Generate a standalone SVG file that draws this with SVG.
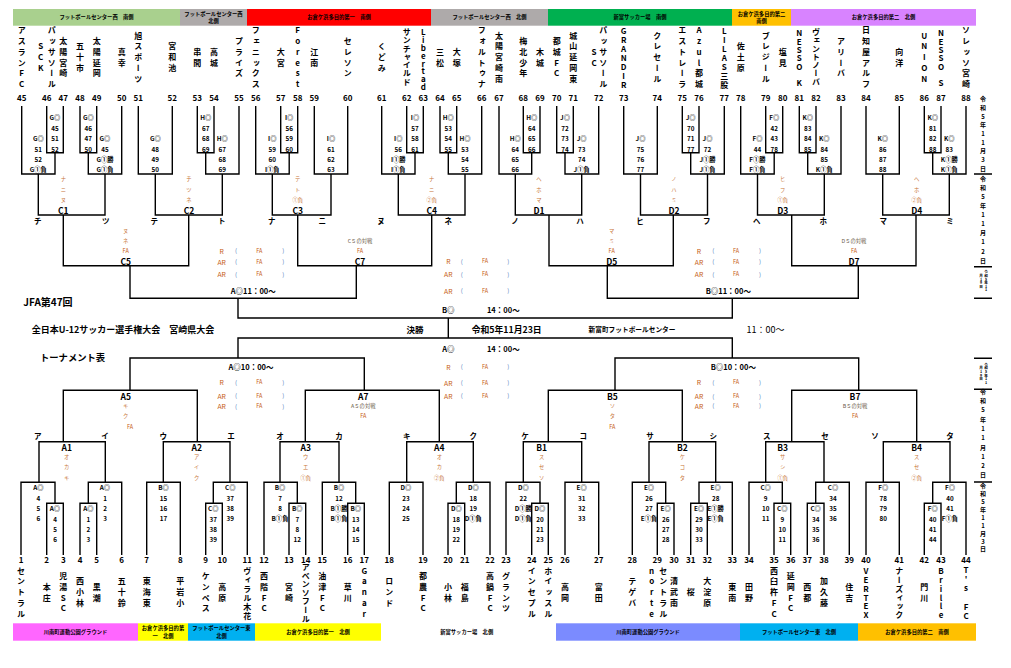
<svg xmlns="http://www.w3.org/2000/svg" width="1011" height="668" viewBox="0 0 1011 668">
<style>
text{font-family:"Noto Sans CJK JP","Liberation Sans",sans-serif;font-weight:bold;dominant-baseline:central;text-anchor:middle;fill:#000}
.n{font-size:8px}
.v{writing-mode:vertical-rl;text-orientation:upright;font-size:8px;letter-spacing:2.7px}
.l{font-size:6.3px}
.k{font-size:5.3px;fill:#c8763a;font-weight:normal}
.g{font-size:5.3px;fill:#6a5a4a;font-weight:normal}
.rt{font-size:8.5px}
.lt{font-size:7.5px}
.tm{font-size:7.5px}
.ref{font-size:6.8px;fill:#c55a11;font-weight:normal}
.p{font-size:6px;fill:#4f81bd;font-weight:normal}
.fa{font-size:5.5px;fill:#c55a11;font-weight:normal}
.hb{font-size:5.3px}
.st{text-anchor:start}
.vd{writing-mode:vertical-rl;text-orientation:upright;font-size:6px;letter-spacing:2.7px}
.vs{writing-mode:vertical-rl;text-orientation:upright;font-size:3.6px}
.conn path{fill:none;stroke:#000;stroke-width:1.4}
</style>
<rect width="1011" height="668" fill="#fff"/>

<g id="header-bars">
<rect x="13" y="9" width="167" height="16.7" fill="#a9d08e"/><text class="hb" x="96.5" y="17.3">フットボールセンター西　南側</text>
<rect x="180" y="9" width="67" height="16.7" fill="#aeaaaa"/><text class="hb" x="213.5" y="13.5">フットボールセンター西</text><text class="hb" x="213.5" y="21.3">北側</text>
<rect x="247" y="9" width="184" height="16.7" fill="#ff0000"/><text class="hb" x="339" y="17.3">お倉ケ浜多目的第一　南側</text>
<rect x="431" y="9" width="117" height="16.7" fill="#aeaaaa"/><text class="hb" x="489.5" y="17.3">フットボールセンター西　北側</text>
<rect x="548" y="9" width="184" height="16.7" fill="#00b050"/><text class="hb" x="640" y="17.3">新富サッカー場　南側</text>
<rect x="732" y="9" width="59" height="16.7" fill="#ffc000"/><text class="hb" x="761.5" y="13.5">お倉ケ浜多目的第二</text><text class="hb" x="761.5" y="21.3">南側</text>
<rect x="791" y="9" width="185" height="16.7" fill="#d883ff"/><text class="hb" x="883.5" y="17.3">お倉ケ浜多目的第二　北側</text>
</g>

<g id="footer-bars">
<rect x="13" y="623.3" width="125" height="17.4" fill="#ff66ff"/><text class="hb" x="75.5" y="632">川南町運動公園グラウンド</text>
<rect x="138" y="623.3" width="50" height="17.4" fill="#ffff00"/><text class="hb" x="163" y="628">お倉ケ浜多目的第</text><text class="hb" x="163" y="636">一　北側</text>
<rect x="188" y="623.3" width="67" height="17.4" fill="#00b0f0"/><text class="hb" x="221.5" y="628">フットボールセンター東</text><text class="hb" x="221.5" y="636">北側</text>
<rect x="255" y="623.3" width="126" height="17.4" fill="#ffff00"/><text class="hb" x="318" y="632">お倉ケ浜多目的第一　北側</text>
<text class="hb" x="466.7" y="632">新富サッカー場　北側</text>
<rect x="556" y="623.3" width="184" height="17.4" fill="#7b8bff"/><text class="hb" x="648" y="632">川南町運動公園グラウンド</text>
<rect x="740" y="623.3" width="118" height="17.4" fill="#00b0f0"/><text class="hb" x="799" y="632">フットボールセンター東　北側</text>
<rect x="858" y="623.3" width="118" height="17.4" fill="#ffc000"/><text class="hb" x="917" y="632">お倉ケ浜多目的第二　南側</text>
</g>

<g id="titles">
<text class="st" x="23.3" y="301" style="font-size:10px">JFA第47回</text>
<text class="st" x="31.7" y="329.3" style="font-size:9px">全日本U-12サッカー選手権大会　宮崎県大会</text>
<text class="st" x="40" y="356.7" style="font-size:9.3px">トーナメント表</text>
<text x="415" y="329" style="font-size:8.5px">決勝</text>
<text x="506.7" y="329" style="font-size:8.8px">令和5年11月23日</text>
<text x="632" y="329" style="font-size:6.7px">新富町フットボールセンター</text>
<text x="765.5" y="329" style="font-size:9px;font-weight:normal">11：00～</text>
</g>

<g class="conn" id="connectors">
<path d="M21.7 106V174H55V152.7M46.7 106V152.7H63.3V106M121.7 106V174H88.3V152.7M80 106V152.7H96.7V106M138.3 106V174H172.3V106M239 106V174H205.7V152.7M197.3 106V152.7H214V106M255.7 106V174H289.2V152.7M280.7 106V152.7H297.7V106M314.3 106V174H347.7V106M381.7 106V174H415V152.7M406.7 106V152.7H423.3V106M481.7 106V174H448.3V152.7M440 106V152.7H456.7V106"/>
<path d="M499 106V174H531.7V152.7M523.3 106V152.7H540V106M598.7 106V174H565V152.7M556.7 106V152.7H573.3V106M623.7 106V174H657.3V106M724.3 106V174H690.7V152.7M682.3 106V152.7H699V106M740.7 106V174H774.2V152.7M765.7 106V152.7H782.7V106M841 106V174H807.7V152.7M799.3 106V152.7H816V106M866 106V174H899.3V106M966 106V174H932.7V152.7M924.3 106V152.7H941V106"/>
<path d="M38.3 174V215H105V174M155.3 174V215H222.3V174M272.3 174V215H331V174M398.3 174V215H465V174M515.3 174V215H581.7V174M640.5 174V215H707.5V174M757.5 174V215H824.3V174M882.7 174V215H949.3V174"/>
<path d="M63.3 215V265.7H188.7V215M297.7 215V265.7H431.7V215M549 215V265.7H673.3V215M791.7 215V265.7H916V215M130 265.7V298.3H356.3V265.7M607.3 265.7V298.3H858.3V265.7"/>
<path d="M238 298.3V318H732.3V298.3M448.3 318V338M238 358V338H732.3V358M130 390.3V358H364.3V390.3M615 390.3V358H858.7V390.3"/>
<path d="M63.3 441.7V390.3H197.3V441.7M305.3 441.7V390.3H439.3V441.7M548.3 441.7V390.3H682.3V441.7M791.7 441.7V390.3H916.7V441.7"/>
<path d="M39 482.3V441.7H105.3V482.3M163.3 482.3V441.7H230V482.3M280 482.3V441.7H339V482.3M406.7 482.3V441.7H473.3V482.3M523.3 482.3V441.7H581.7V482.3M649 482.3V441.7H715.7V482.3M765.7 482.3V441.7H824V482.3M883.3 482.3V441.7H950V482.3"/>
<path d="M21 555V482.3H55V503.3M46.7 555V503.3H63.3V555M121.7 555V482.3H88.3V503.3M80 555V503.3H96.7V555M146.7 555V482.3H180.3V555M247.3 555V482.3H213.3V503.3M205.7 555V503.3H222.3V555M264 555V482.3H297.3V503.3M289 555V503.3H305.7V555M322.3 555V482.3H355.7V503.3M347.7 555V503.3H364.3V555M389.3 555V482.3H423V555M490 555V482.3H456.3V503.3M448 555V503.3H464.7V555"/>
<path d="M506 555V482.3H540V503.3M531.7 555V503.3H548.3V555M565 555V482.3H598.7V555M632.3 555V482.3H665.7V503.3M657.3 555V503.3H674V555M732.3 555V482.3H699V503.3M690.7 555V503.3H707.3V555M749 555V482.3H782.3V503.3M774 555V503.3H790.7V555M849.3 555V482.3H815.7V503.3M807.3 555V503.3H824V555M866 555V482.3H899.3V555M966 555V482.3H932.7V503.3M924.3 555V503.3H941V555"/>
<path d="M974 174H992M974 266.7H992M974 298.3H992M974 358.3H992M974 389.3H992M974 482H992"/>
</g>

<g id="teams-top">
<g id="t45"><text class="n" x="21.7" y="97.7">45</text><text class="v" x="21.7" y="58.5">アスランFC</text></g>
<g id="t46"><text class="n" x="46.7" y="97.7">46</text><text class="v" x="40.7" y="58.5">SCK</text><text class="v" x="51.7" y="58.5">パッサソール</text></g>
<g id="t47"><text class="n" x="63.3" y="97.7">47</text><text class="v" x="63.3" y="58.5">太陽宮崎</text></g>
<g id="t48"><text class="n" x="80" y="97.7">48</text><text class="v" x="80" y="58.5">五十市</text></g>
<g id="t49"><text class="n" x="96.7" y="97.7">49</text><text class="v" x="96.7" y="58.5">太陽延岡</text></g>
<g id="t50"><text class="n" x="121.7" y="97.7">50</text><text class="v" x="121.7" y="58.5">真幸</text></g>
<g id="t51"><text class="n" x="138.3" y="97.7">51</text><text class="v" x="138.3" y="58.5">旭スポーツ</text></g>
<g id="t52"><text class="n" x="172.3" y="97.7">52</text><text class="v" x="172.3" y="58.5">宮和池</text></g>
<g id="t53"><text class="n" x="197.3" y="97.7">53</text><text class="v" x="197.3" y="58.5">串間</text></g>
<g id="t54"><text class="n" x="214" y="97.7">54</text><text class="v" x="214" y="58.5">高城</text></g>
<g id="t55"><text class="n" x="239" y="97.7">55</text><text class="v" x="239" y="58.5">プライズ</text></g>
<g id="t56"><text class="n" x="255.7" y="97.7">56</text><text class="v" x="255.7" y="58.5">フェニックス</text></g>
<g id="t57"><text class="n" x="280.7" y="97.7">57</text><text class="v" x="280.7" y="58.5">大宮</text></g>
<g id="t58"><text class="n" x="297.7" y="97.7">58</text><text class="v" x="297.7" y="58.5">Forest</text></g>
<g id="t59"><text class="n" x="314.3" y="97.7">59</text><text class="v" x="314.3" y="58.5">江南</text></g>
<g id="t60"><text class="n" x="347.7" y="97.7">60</text><text class="v" x="347.7" y="58.5">セレソン</text></g>
<g id="t61"><text class="n" x="381.7" y="97.7">61</text><text class="v" x="381.7" y="58.5">くどみ</text></g>
<g id="t62"><text class="n" x="406.7" y="97.7">62</text><text class="v" x="406.7" y="57" style="letter-spacing:0.3px">サンチャイルド</text></g>
<g id="t63"><text class="n" x="423.3" y="97.7">63</text><text class="v" x="423.3" y="59.5" style="letter-spacing:-0.1px">Libertad</text></g>
<g id="t64"><text class="n" x="440" y="97.7">64</text><text class="v" x="440" y="58.5">三松</text></g>
<g id="t65"><text class="n" x="456.7" y="97.7">65</text><text class="v" x="456.7" y="58.5">大塚</text></g>
<g id="t66"><text class="n" x="481.7" y="97.7">66</text><text class="v" x="481.7" y="58.5">フォルトゥナ</text></g>
<g id="t67"><text class="n" x="499" y="97.7">67</text><text class="v" x="499" y="58.5">太陽宮崎南</text></g>
<g id="t68"><text class="n" x="523.3" y="97.7">68</text><text class="v" x="523.3" y="58.5">梅北少年</text></g>
<g id="t69"><text class="n" x="540" y="97.7">69</text><text class="v" x="540" y="58.5">木城</text></g>
<g id="t70"><text class="n" x="556.7" y="97.7">70</text><text class="v" x="556.7" y="58.5">都城FC</text></g>
<g id="t71"><text class="n" x="573.3" y="97.7">71</text><text class="v" x="573.3" y="58.5">城山延岡東</text></g>
<g id="t72"><text class="n" x="598.7" y="97.7">72</text><text class="v" x="594" y="58.5">SC</text><text class="v" x="603.3" y="58.5">パッサソール</text></g>
<g id="t73"><text class="n" x="623.7" y="97.7">73</text><text class="v" x="623.7" y="58.5" style="letter-spacing:0.9px">GRANDIR</text></g>
<g id="t74"><text class="n" x="657.3" y="97.7">74</text><text class="v" x="657.3" y="58.5">クレセール</text></g>
<g id="t75"><text class="n" x="682.3" y="97.7">75</text><text class="v" x="682.3" y="58.5">エストレーラ</text></g>
<g id="t76"><text class="n" x="699" y="97.7">76</text><text class="v" x="699" y="58.5">Azul都城</text></g>
<g id="t77"><text class="n" x="724.3" y="97.7">77</text><text class="v" x="724.3" y="58.5" style="letter-spacing:0.9px">LILAS三股</text></g>
<g id="t78"><text class="n" x="740.7" y="97.7">78</text><text class="v" x="740.7" y="58.5">佐土原</text></g>
<g id="t79"><text class="n" x="765.7" y="97.7">79</text><text class="v" x="765.7" y="58.5">ブレジール</text></g>
<g id="t80"><text class="n" x="782.7" y="97.7">80</text><text class="v" x="782.7" y="58.5">塩見</text></g>
<g id="t81"><text class="n" x="799.3" y="97.7">81</text><text class="v" x="799.3" y="58.5" style="letter-spacing:0.3px">NESSO　K</text></g>
<g id="t82"><text class="n" x="816" y="97.7">82</text><text class="v" x="816" y="57" style="letter-spacing:0.3px">ヴェントノーバ</text></g>
<g id="t83"><text class="n" x="841" y="97.7">83</text><text class="v" x="841" y="58.5">アリーバ</text></g>
<g id="t84"><text class="n" x="866" y="97.7">84</text><text class="v" x="866" y="58.5">日知屋アルフ</text></g>
<g id="t85"><text class="n" x="899.3" y="97.7">85</text><text class="v" x="899.3" y="58.5">向洋</text></g>
<g id="t86"><text class="n" x="924.3" y="97.7">86</text><text class="v" x="924.3" y="58.5">UNION</text></g>
<g id="t87"><text class="n" x="941" y="97.7">87</text><text class="v" x="941" y="58.5" style="letter-spacing:0.3px">NESSO　S</text></g>
<g id="t88"><text class="n" x="966" y="97.7">88</text><text class="v" x="966" y="58.5">ソレッソ宮崎</text></g>
</g>

<g id="teams-bottom">
<g id="t1"><text class="n" x="21" y="559.3">1</text><text class="v" x="21" y="593.5">セントラル</text></g>
<g id="t2"><text class="n" x="46.7" y="559.3">2</text><text class="v" x="46.7" y="593.5">本庄</text></g>
<g id="t3"><text class="n" x="63.3" y="559.3">3</text><text class="v" x="63.3" y="593.5">児湯SC</text></g>
<g id="t4"><text class="n" x="80" y="559.3">4</text><text class="v" x="80" y="593.5">西小林</text></g>
<g id="t5"><text class="n" x="96.7" y="559.3">5</text><text class="v" x="96.7" y="593.5">黒潮</text></g>
<g id="t6"><text class="n" x="121.7" y="559.3">6</text><text class="v" x="121.7" y="593.5">五十鈴</text></g>
<g id="t7"><text class="n" x="146.7" y="559.3">7</text><text class="v" x="146.7" y="593.5">東海東</text></g>
<g id="t8"><text class="n" x="180.3" y="559.3">8</text><text class="v" x="180.3" y="593.5">平岩小</text></g>
<g id="t9"><text class="n" x="205.7" y="559.3">9</text><text class="v" x="205.7" y="593.5">ケンペス</text></g>
<g id="t10"><text class="n" x="222.3" y="559.3">10</text><text class="v" x="222.3" y="593.5">高原</text></g>
<g id="t11"><text class="n" x="247.3" y="559.3">11</text><text class="v" x="247.3" y="593.5" style="letter-spacing:1px">ヴィラル木花</text></g>
<g id="t12"><text class="n" x="264" y="559.3">12</text><text class="v" x="264" y="593.5">西階FC</text></g>
<g id="t13"><text class="n" x="289" y="559.3">13</text><text class="v" x="289" y="593.5">宮崎</text></g>
<g id="t14"><text class="n" x="305.7" y="559.3">14</text><text class="v" x="305.7" y="593" style="letter-spacing:0.6px">アベンソフール</text></g>
<g id="t15"><text class="n" x="322.3" y="559.3">15</text><text class="v" x="322.3" y="593.5">油津FC</text></g>
<g id="t16"><text class="n" x="347.7" y="559.3">16</text><text class="v" x="347.7" y="593.5">草川</text></g>
<g id="t17"><text class="n" x="364.3" y="559.3">17</text><text class="v" x="364.3" y="593.5">Ganar</text></g>
<g id="t18"><text class="n" x="389.3" y="559.3">18</text><text class="v" x="389.3" y="593.5">ロンド</text></g>
<g id="t19"><text class="n" x="423" y="559.3">19</text><text class="v" x="423" y="593.5">都農FC</text></g>
<g id="t20"><text class="n" x="448" y="559.3">20</text><text class="v" x="448" y="593.5">小林</text></g>
<g id="t21"><text class="n" x="464.7" y="559.3">21</text><text class="v" x="464.7" y="593.5">福島</text></g>
<g id="t22"><text class="n" x="490" y="559.3">22</text><text class="v" x="490" y="593.5">高鍋FC</text></g>
<g id="t23"><text class="n" x="506" y="559.3">23</text><text class="v" x="506" y="593.5">グランツ</text></g>
<g id="t24"><text class="n" x="531.7" y="559.3">24</text><text class="v" x="531.7" y="593.5">インセプル</text></g>
<g id="t25"><text class="n" x="548.3" y="559.3">25</text><text class="v" x="548.3" y="593.5">ホイッスル</text></g>
<g id="t26"><text class="n" x="565" y="559.3">26</text><text class="v" x="565" y="593.5">高岡</text></g>
<g id="t27"><text class="n" x="598.7" y="559.3">27</text><text class="v" x="598.7" y="593.5">富田</text></g>
<g id="t28"><text class="n" x="632.3" y="559.3">28</text><text class="v" x="632.3" y="593.5">テゲバ</text></g>
<g id="t29"><text class="n" x="657.3" y="559.3">29</text><text class="v" x="651.7" y="593.5">norte</text><text class="v" x="663.3" y="593.5">セントラル</text></g>
<g id="t30"><text class="n" x="674" y="559.3">30</text><text class="v" x="674" y="593.5">清武南</text></g>
<g id="t31"><text class="n" x="690.7" y="559.3">31</text><text class="v" x="690.7" y="593.5">桜</text></g>
<g id="t32"><text class="n" x="707.3" y="559.3">32</text><text class="v" x="707.3" y="593.5">大淀原</text></g>
<g id="t33"><text class="n" x="732.3" y="559.3">33</text><text class="v" x="732.3" y="593.5">東南</text></g>
<g id="t34"><text class="n" x="749" y="559.3">34</text><text class="v" x="749" y="593.5">田野</text></g>
<g id="t35"><text class="n" x="774" y="559.3">35</text><text class="v" x="774" y="593.5">西臼杵FC</text></g>
<g id="t36"><text class="n" x="790.7" y="559.3">36</text><text class="v" x="790.7" y="593.5">延岡FC</text></g>
<g id="t37"><text class="n" x="807.3" y="559.3">37</text><text class="v" x="807.3" y="593.5">西都</text></g>
<g id="t38"><text class="n" x="824" y="559.3">38</text><text class="v" x="824" y="593.5">加久藤</text></g>
<g id="t39"><text class="n" x="849.3" y="559.3">39</text><text class="v" x="849.3" y="593.5">住吉</text></g>
<g id="t40"><text class="n" x="866" y="559.3">40</text><text class="v" x="866" y="593.5" style="letter-spacing:0.7px">VERTEX</text></g>
<g id="t41"><text class="n" x="899.3" y="559.3">41</text><text class="v" x="899.3" y="593.5" style="letter-spacing:0.7px">ナーズィック</text></g>
<g id="t42"><text class="n" x="924.3" y="559.3">42</text><text class="v" x="924.3" y="593.5">門川</text></g>
<g id="t43"><text class="n" x="941" y="559.3">43</text><text class="v" x="941" y="593.5" style="letter-spacing:0.7px">Brille</text></g>
<g id="t44"><text class="n" x="966" y="559.3">44</text><text class="v" x="966" y="593.5" style="letter-spacing:1.3px">T's　FC</text></g>
</g>

<g id="labels-top">
<text class="l" x="55" y="117.7">G◎<tspan x="55" dy="10.3">45</tspan><tspan x="55" dy="10.3">51</tspan><tspan x="55" dy="10.3">52</tspan></text>
<text class="l" x="38.3" y="138.3">G◎<tspan x="38.3" dy="10.3">51</tspan><tspan x="38.3" dy="10.3">52</tspan><tspan x="38.3" dy="10.3">G①負</tspan></text>
<text class="l" x="88.3" y="117.7">G◎<tspan x="88.3" dy="10.3">46</tspan><tspan x="88.3" dy="10.3">47</tspan><tspan x="88.3" dy="10.3">50</tspan></text>
<text class="l" x="105" y="138.3">G◎<tspan x="105" dy="10.3">45</tspan><tspan x="105" dy="10.3">G①勝</tspan><tspan x="105" dy="10.3">G①負</tspan></text>
<text class="l" x="155.3" y="138.3">G◎<tspan x="155.3" dy="10.3">48</tspan><tspan x="155.3" dy="10.3">49</tspan><tspan x="155.3" dy="10.3">50</tspan></text>
<text class="l" x="205.7" y="117.7">H◎<tspan x="205.7" dy="10.3">67</tspan><tspan x="205.7" dy="10.3">68</tspan><tspan x="205.7" dy="10.3">69</tspan></text>
<text class="l" x="222.3" y="138.3">H◎<tspan x="222.3" dy="10.3">67</tspan><tspan x="222.3" dy="10.3">68</tspan><tspan x="222.3" dy="10.3">69</tspan></text>
<text class="l" x="289.2" y="117.7">I◎<tspan x="289.2" dy="10.3">56</tspan><tspan x="289.2" dy="10.3">59</tspan><tspan x="289.2" dy="10.3">60</tspan></text>
<text class="l" x="272.3" y="138.3">I◎<tspan x="272.3" dy="10.3">59</tspan><tspan x="272.3" dy="10.3">60</tspan><tspan x="272.3" dy="10.3">I①負</tspan></text>
<text class="l" x="331" y="138.3">I◎<tspan x="331" dy="10.3">61</tspan><tspan x="331" dy="10.3">62</tspan><tspan x="331" dy="10.3">63</tspan></text>
<text class="l" x="415" y="117.7">I◎<tspan x="415" dy="10.3">57</tspan><tspan x="415" dy="10.3">58</tspan><tspan x="415" dy="10.3">61</tspan></text>
<text class="l" x="398.3" y="138.3">I◎<tspan x="398.3" dy="10.3">56</tspan><tspan x="398.3" dy="10.3">I①勝</tspan><tspan x="398.3" dy="10.3">I①負</tspan></text>
<text class="l" x="448.3" y="117.7">H◎<tspan x="448.3" dy="10.3">53</tspan><tspan x="448.3" dy="10.3">54</tspan><tspan x="448.3" dy="10.3">55</tspan></text>
<text class="l" x="465" y="138.3">H◎<tspan x="465" dy="10.3">53</tspan><tspan x="465" dy="10.3">54</tspan><tspan x="465" dy="10.3">55</tspan></text>
<text class="l" x="531.7" y="117.7">H◎<tspan x="531.7" dy="10.3">64</tspan><tspan x="531.7" dy="10.3">65</tspan><tspan x="531.7" dy="10.3">66</tspan></text>
<text class="l" x="515.3" y="138.3">H◎<tspan x="515.3" dy="10.3">64</tspan><tspan x="515.3" dy="10.3">65</tspan><tspan x="515.3" dy="10.3">66</tspan></text>
<text class="l" x="565" y="117.7">J◎<tspan x="565" dy="10.3">72</tspan><tspan x="565" dy="10.3">73</tspan><tspan x="565" dy="10.3">74</tspan></text>
<text class="l" x="581.7" y="138.3">J◎<tspan x="581.7" dy="10.3">73</tspan><tspan x="581.7" dy="10.3">74</tspan><tspan x="581.7" dy="10.3">J①負</tspan></text>
<text class="l" x="640.5" y="138.3">J◎<tspan x="640.5" dy="10.3">75</tspan><tspan x="640.5" dy="10.3">76</tspan><tspan x="640.5" dy="10.3">77</tspan></text>
<text class="l" x="690.7" y="117.7">J◎<tspan x="690.7" dy="10.3">70</tspan><tspan x="690.7" dy="10.3">71</tspan><tspan x="690.7" dy="10.3">77</tspan></text>
<text class="l" x="707.5" y="138.3">J◎<tspan x="707.5" dy="10.3">72</tspan><tspan x="707.5" dy="10.3">J①勝</tspan><tspan x="707.5" dy="10.3">J①負</tspan></text>
<text class="l" x="774.2" y="117.7">F◎<tspan x="774.2" dy="10.3">42</tspan><tspan x="774.2" dy="10.3">43</tspan><tspan x="774.2" dy="10.3">78</tspan></text>
<text class="l" x="757.5" y="138.3">F◎<tspan x="757.5" dy="10.3">44</tspan><tspan x="757.5" dy="10.3">F①勝</tspan><tspan x="757.5" dy="10.3">F①負</tspan></text>
<text class="l" x="807.7" y="117.7">K◎<tspan x="807.7" dy="10.3">83</tspan><tspan x="807.7" dy="10.3">84</tspan><tspan x="807.7" dy="10.3">85</tspan></text>
<text class="l" x="824.3" y="138.3">K◎<tspan x="824.3" dy="10.3">84</tspan><tspan x="824.3" dy="10.3">85</tspan><tspan x="824.3" dy="10.3">K①負</tspan></text>
<text class="l" x="882.7" y="138.3">K◎<tspan x="882.7" dy="10.3">86</tspan><tspan x="882.7" dy="10.3">87</tspan><tspan x="882.7" dy="10.3">88</tspan></text>
<text class="l" x="932.7" y="117.7">K◎<tspan x="932.7" dy="10.3">81</tspan><tspan x="932.7" dy="10.3">82</tspan><tspan x="932.7" dy="10.3">88</tspan></text>
<text class="l" x="949.3" y="138.3">K◎<tspan x="949.3" dy="10.3">83</tspan><tspan x="949.3" dy="10.3">K①勝</tspan><tspan x="949.3" dy="10.3">K①負</tspan></text>
</g>

<g id="labels-bottom">
<text class="l" x="38.3" y="487.3">A◎<tspan x="38.3" dy="10.3">4</tspan><tspan x="38.3" dy="10.3">5</tspan><tspan x="38.3" dy="10.3">6</tspan></text>
<text class="l" x="55" y="508.3">A◎<tspan x="55" dy="10.3">4</tspan><tspan x="55" dy="10.3">5</tspan><tspan x="55" dy="10.3">6</tspan></text>
<text class="l" x="105" y="487.3">A◎<tspan x="105" dy="10.3">1</tspan><tspan x="105" dy="10.3">2</tspan><tspan x="105" dy="10.3">3</tspan></text>
<text class="l" x="88.3" y="508.3">A◎<tspan x="88.3" dy="10.3">1</tspan><tspan x="88.3" dy="10.3">2</tspan><tspan x="88.3" dy="10.3">3</tspan></text>
<text class="l" x="163.5" y="487.3">B◎<tspan x="163.5" dy="10.3">15</tspan><tspan x="163.5" dy="10.3">16</tspan><tspan x="163.5" dy="10.3">17</tspan></text>
<text class="l" x="230.3" y="487.3">C◎<tspan x="230.3" dy="10.3">37</tspan><tspan x="230.3" dy="10.3">38</tspan><tspan x="230.3" dy="10.3">39</tspan></text>
<text class="l" x="213.3" y="508.3">C◎<tspan x="213.3" dy="10.3">37</tspan><tspan x="213.3" dy="10.3">38</tspan><tspan x="213.3" dy="10.3">39</tspan></text>
<text class="l" x="280" y="487.3">B◎<tspan x="280" dy="10.3">7</tspan><tspan x="280" dy="10.3">8</tspan><tspan x="280" dy="10.3">B①負</tspan></text>
<text class="l" x="297.3" y="508.3">B◎<tspan x="297.3" dy="10.3">7</tspan><tspan x="297.3" dy="10.3">8</tspan><tspan x="297.3" dy="10.3">12</tspan></text>
<text class="l" x="339" y="487.3">B◎<tspan x="339" dy="10.3">12</tspan><tspan x="339" dy="10.3">B①勝</tspan><tspan x="339" dy="10.3">B①負</tspan></text>
<text class="l" x="355.7" y="508.3">B◎<tspan x="355.7" dy="10.3">13</tspan><tspan x="355.7" dy="10.3">14</tspan><tspan x="355.7" dy="10.3">15</tspan></text>
<text class="l" x="406" y="487.3">D◎<tspan x="406" dy="10.3">23</tspan><tspan x="406" dy="10.3">24</tspan><tspan x="406" dy="10.3">25</tspan></text>
<text class="l" x="473.3" y="487.3">D◎<tspan x="473.3" dy="10.3">18</tspan><tspan x="473.3" dy="10.3">19</tspan><tspan x="473.3" dy="10.3">D①負</tspan></text>
<text class="l" x="456.3" y="508.3">D◎<tspan x="456.3" dy="10.3">18</tspan><tspan x="456.3" dy="10.3">19</tspan><tspan x="456.3" dy="10.3">22</tspan></text>
<text class="l" x="523.3" y="487.3">D◎<tspan x="523.3" dy="10.3">22</tspan><tspan x="523.3" dy="10.3">D①勝</tspan><tspan x="523.3" dy="10.3">D①負</tspan></text>
<text class="l" x="540" y="508.3">D◎<tspan x="540" dy="10.3">20</tspan><tspan x="540" dy="10.3">21</tspan><tspan x="540" dy="10.3">23</tspan></text>
<text class="l" x="581.7" y="487.3">E◎<tspan x="581.7" dy="10.3">31</tspan><tspan x="581.7" dy="10.3">32</tspan><tspan x="581.7" dy="10.3">33</tspan></text>
<text class="l" x="649" y="487.3">E◎<tspan x="649" dy="10.3">26</tspan><tspan x="649" dy="10.3">27</tspan><tspan x="649" dy="10.3">E①負</tspan></text>
<text class="l" x="665.7" y="508.3">E◎<tspan x="665.7" dy="10.3">26</tspan><tspan x="665.7" dy="10.3">27</tspan><tspan x="665.7" dy="10.3">28</tspan></text>
<text class="l" x="715.7" y="487.3">E◎<tspan x="715.7" dy="10.3">28</tspan><tspan x="715.7" dy="10.3">E①勝</tspan><tspan x="715.7" dy="10.3">E①負</tspan></text>
<text class="l" x="699" y="508.3">E◎<tspan x="699" dy="10.3">29</tspan><tspan x="699" dy="10.3">30</tspan><tspan x="699" dy="10.3">33</tspan></text>
<text class="l" x="765.7" y="487.3">C◎<tspan x="765.7" dy="10.3">9</tspan><tspan x="765.7" dy="10.3">10</tspan><tspan x="765.7" dy="10.3">11</tspan></text>
<text class="l" x="782.3" y="508.3">C◎<tspan x="782.3" dy="10.3">9</tspan><tspan x="782.3" dy="10.3">10</tspan><tspan x="782.3" dy="10.3">11</tspan></text>
<text class="l" x="833" y="487.3">C◎<tspan x="833" dy="10.3">34</tspan><tspan x="833" dy="10.3">35</tspan><tspan x="833" dy="10.3">36</tspan></text>
<text class="l" x="815.7" y="508.3">C◎<tspan x="815.7" dy="10.3">34</tspan><tspan x="815.7" dy="10.3">35</tspan><tspan x="815.7" dy="10.3">36</tspan></text>
<text class="l" x="883.3" y="487.3">F◎<tspan x="883.3" dy="10.3">78</tspan><tspan x="883.3" dy="10.3">79</tspan><tspan x="883.3" dy="10.3">80</tspan></text>
<text class="l" x="950" y="487.3">F◎<tspan x="950" dy="10.3">40</tspan><tspan x="950" dy="10.3">41</tspan><tspan x="950" dy="10.3">F①負</tspan></text>
<text class="l" x="932.7" y="508.3">F◎<tspan x="932.7" dy="10.3">40</tspan><tspan x="932.7" dy="10.3">41</tspan><tspan x="932.7" dy="10.3">44</tspan></text>
</g>

<g id="round2-top">
<g id="C1"><text class="k" x="63.3" y="179">ナ</text><text class="k" x="63.3" y="190">ニ</text><text class="k" x="63.3" y="200">ヌ</text><text class="rt" x="63.3" y="210">C1</text></g>
<g id="C2"><text class="k" x="189" y="179">チ</text><text class="k" x="189" y="190">ツ</text><text class="k" x="189" y="200">ネ</text><text class="rt" x="189" y="210">C2</text></g>
<g id="C3"><text class="k" x="297.7" y="179">テ</text><text class="k" x="297.7" y="190">ト</text><text class="k" x="297.7" y="200">①負</text><text class="rt" x="297.7" y="210">C3</text></g>
<g id="C4"><text class="k" x="431.7" y="179">ナ</text><text class="k" x="431.7" y="190">ニ</text><text class="k" x="431.7" y="200">②負</text><text class="rt" x="431.7" y="210">C4</text></g>
<g id="D1"><text class="k" x="539" y="179">ヘ</text><text class="k" x="539" y="190">ホ</text><text class="k" x="539" y="200">マ</text><text class="rt" x="539" y="210">D1</text></g>
<g id="D2"><text class="k" x="674" y="179">ノ</text><text class="k" x="674" y="190">ハ</text><text class="k" x="674" y="200">ミ</text><text class="rt" x="674" y="210">D2</text></g>
<g id="D3"><text class="k" x="782.7" y="179">ヒ</text><text class="k" x="782.7" y="190">フ</text><text class="k" x="782.7" y="200">①負</text><text class="rt" x="782.7" y="210">D3</text></g>
<g id="D4"><text class="k" x="916.7" y="179">ヘ</text><text class="k" x="916.7" y="190">ホ</text><text class="k" x="916.7" y="200">②負</text><text class="rt" x="916.7" y="210">D4</text></g>
<g id="letters-top">
<text class="lt" x="37.7" y="220.7">チ</text><text class="lt" x="105.7" y="220.7">ツ</text><text class="lt" x="154.3" y="220.7">テ</text><text class="lt" x="221.7" y="220.7">ト</text>
<text class="lt" x="271.7" y="220.7">ナ</text><text class="lt" x="322.3" y="220.7">ニ</text><text class="lt" x="381" y="220.7">ヌ</text><text class="lt" x="448.3" y="220.7">ネ</text>
<text class="lt" x="515" y="220.7">ノ</text><text class="lt" x="580" y="220.7">ハ</text><text class="lt" x="640" y="220.7">ヒ</text><text class="lt" x="706.7" y="220.7">フ</text>
<text class="lt" x="756.7" y="220.7">ヘ</text><text class="lt" x="823.3" y="220.7">ホ</text><text class="lt" x="883.3" y="220.7">マ</text><text class="lt" x="950" y="220.7">ミ</text>
</g>
</g>

<g id="round3-top">
<g id="C5"><text class="k" x="125.7" y="230.7">ヌ</text><text class="k" x="125.7" y="241">ネ</text><text class="fa" x="125.7" y="251">FA</text><text class="rt" x="125.7" y="261">C5</text></g>
<g id="C7"><text class="g" x="360" y="241">C５の対戦</text><text class="fa" x="360" y="251">FA</text><text class="rt" x="360" y="261">C7</text></g>
<g id="D5"><text class="k" x="611.7" y="230.7">マ</text><text class="k" x="611.7" y="241">ミ</text><text class="fa" x="611.7" y="251">FA</text><text class="rt" x="611.7" y="261">D5</text></g>
<g id="D7"><text class="g" x="854" y="241">D５の対戦</text><text class="fa" x="854" y="251">FA</text><text class="rt" x="854" y="261">D7</text></g>
<text class="tm" x="253.3" y="290.7">A◎11：00～</text>
<text class="tm" x="728.3" y="290.7">B◎11：00～</text>
</g>

<g id="referees">
<g id="ref-a11">
<text class="ref" x="221.7" y="250.7">R</text><text class="p" x="236" y="250.7">(</text><text class="fa" x="259.3" y="250.7">FA</text><text class="p" x="283.3" y="250.7">)</text>
<text class="ref" x="221.7" y="261.7">AR</text><text class="p" x="236" y="261.7">(</text><text class="fa" x="259.3" y="261.7">FA</text><text class="p" x="283.3" y="261.7">)</text>
<text class="ref" x="221.7" y="274.3">AR</text><text class="p" x="236" y="274.3">(</text><text class="fa" x="259.3" y="274.3">FA</text><text class="p" x="283.3" y="274.3">)</text>
</g>
<g id="ref-b11">
<text class="ref" x="699" y="250.7">R</text><text class="p" x="713.3" y="250.7">(</text><text class="fa" x="736" y="250.7">FA</text><text class="p" x="760" y="250.7">)</text>
<text class="ref" x="699" y="261.7">AR</text><text class="p" x="713.3" y="261.7">(</text><text class="fa" x="736" y="261.7">FA</text><text class="p" x="760" y="261.7">)</text>
<text class="ref" x="699" y="274.3">AR</text><text class="p" x="713.3" y="274.3">(</text><text class="fa" x="736" y="274.3">FA</text><text class="p" x="760" y="274.3">)</text>
</g>
<g id="ref-b14">
<text class="ref" x="448.3" y="261">R</text><text class="p" x="461.7" y="261">(</text><text class="fa" x="485" y="261">FA</text><text class="p" x="508.3" y="261">)</text>
<text class="ref" x="448.3" y="274.3">AR</text><text class="p" x="461.7" y="274.3">(</text><text class="fa" x="485" y="274.3">FA</text><text class="p" x="508.3" y="274.3">)</text>
<text class="ref" x="448.3" y="290.5">AR</text><text class="p" x="461.7" y="290.5">(</text><text class="fa" x="485" y="290.5">FA</text><text class="p" x="508.3" y="290.5">)</text>
<text class="tm" x="448.3" y="309">B◎</text><text class="tm" x="503.3" y="309">14：00～</text>
</g>
<g id="ref-a14">
<text class="tm" x="448.3" y="348.3">A◎</text><text class="tm" x="503.3" y="348.3">14：00～</text>
<text class="ref" x="448.3" y="366.7">R</text><text class="p" x="461.7" y="366.7">(</text><text class="fa" x="485" y="366.7">FA</text><text class="p" x="508.3" y="366.7">)</text>
<text class="ref" x="448.3" y="382.7">AR</text><text class="p" x="461.7" y="382.7">(</text><text class="fa" x="485" y="382.7">FA</text><text class="p" x="508.3" y="382.7">)</text>
<text class="ref" x="448.3" y="395.7">AR</text><text class="p" x="461.7" y="395.7">(</text><text class="fa" x="485" y="395.7">FA</text><text class="p" x="508.3" y="395.7">)</text>
</g>
<g id="ref-a10">
<text class="ref" x="221.7" y="382.3">R</text><text class="p" x="236" y="382.3">(</text><text class="fa" x="259.3" y="382.3">FA</text><text class="p" x="283.3" y="382.3">)</text>
<text class="ref" x="221.7" y="395.7">AR</text><text class="p" x="236" y="395.7">(</text><text class="fa" x="259.3" y="395.7">FA</text><text class="p" x="283.3" y="395.7">)</text>
<text class="ref" x="221.7" y="406">AR</text><text class="p" x="236" y="406">(</text><text class="fa" x="259.3" y="406">FA</text><text class="p" x="283.3" y="406">)</text>
</g>
<g id="ref-b10">
<text class="ref" x="699" y="382.3">R</text><text class="p" x="713.3" y="382.3">(</text><text class="fa" x="736" y="382.3">FA</text><text class="p" x="760" y="382.3">)</text>
<text class="ref" x="699" y="396">AR</text><text class="p" x="713.3" y="396">(</text><text class="fa" x="736" y="396">FA</text><text class="p" x="760" y="396">)</text>
<text class="ref" x="699" y="405.7">AR</text><text class="p" x="713.3" y="405.7">(</text><text class="fa" x="736" y="405.7">FA</text><text class="p" x="760" y="405.7">)</text>
</g>
</g>

<g id="round3-bottom">
<text class="tm" x="251" y="366">A◎10：00～</text>
<text class="tm" x="733.3" y="366">B◎10：00～</text>
<g id="A5"><text class="rt" x="125.7" y="396">A5</text><text class="k" x="125.7" y="406">キ</text><text class="k" x="125.7" y="416.3">ク</text><text class="fa" x="130" y="426.7">FA</text></g>
<g id="A7"><text class="rt" x="363.3" y="396">A7</text><text class="g" x="363.3" y="406">A５の対戦</text><text class="fa" x="363.3" y="416.3">FA</text></g>
<g id="B5"><text class="rt" x="612.3" y="396">B5</text><text class="k" x="612.3" y="406">ソ</text><text class="k" x="612.3" y="416.3">タ</text><text class="fa" x="612.3" y="426.7">FA</text></g>
<g id="B7"><text class="rt" x="855" y="396">B7</text><text class="g" x="855" y="406">B５の対戦</text><text class="fa" x="855" y="416.3">FA</text></g>
</g>

<g id="round2-bottom">
<g id="letters-bottom">
<text class="lt" x="37.7" y="435.7">ア</text><text class="lt" x="105" y="435.7">イ</text><text class="lt" x="163.3" y="435.7">ウ</text><text class="lt" x="231" y="435.7">エ</text>
<text class="lt" x="280" y="435.7">オ</text><text class="lt" x="339" y="435.7">カ</text><text class="lt" x="406.7" y="435.7">キ</text><text class="lt" x="473.3" y="435.7">ク</text>
<text class="lt" x="525" y="435.7">ケ</text><text class="lt" x="583.3" y="435.7">コ</text><text class="lt" x="650" y="435.7">サ</text><text class="lt" x="713.3" y="435.7">シ</text>
<text class="lt" x="766.7" y="435.7">ス</text><text class="lt" x="825" y="435.7">セ</text><text class="lt" x="875" y="435.7">ソ</text><text class="lt" x="950" y="435.7">タ</text>
</g>
<g id="A1"><text class="rt" x="66.7" y="446.7">A1</text><text class="k" x="66.7" y="456.7">オ</text><text class="k" x="66.7" y="467.3">カ</text><text class="k" x="66.7" y="477.7">キ</text></g>
<g id="A2"><text class="rt" x="196.7" y="446.7">A2</text><text class="k" x="196.7" y="456.7">ア</text><text class="k" x="196.7" y="467.3">イ</text><text class="k" x="196.7" y="477.7">ク</text></g>
<g id="A3"><text class="rt" x="305.7" y="446.7">A3</text><text class="k" x="305.7" y="456.7">ウ</text><text class="k" x="305.7" y="467.3">エ</text><text class="k" x="305.7" y="477.7">①負</text></g>
<g id="A4"><text class="rt" x="439.3" y="446.7">A4</text><text class="k" x="439.3" y="456.7">オ</text><text class="k" x="439.3" y="467.3">カ</text><text class="k" x="439.3" y="477.7">②負</text></g>
<g id="B1"><text class="rt" x="541.7" y="446.7">B1</text><text class="k" x="541.7" y="456.7">ス</text><text class="k" x="541.7" y="467.3">セ</text><text class="k" x="541.7" y="477.7">ソ</text></g>
<g id="B2"><text class="rt" x="682.3" y="446.7">B2</text><text class="k" x="682.3" y="456.7">ケ</text><text class="k" x="682.3" y="467.3">コ</text><text class="k" x="682.3" y="477.7">タ</text></g>
<g id="B3"><text class="rt" x="782.7" y="446.7">B3</text><text class="k" x="782.7" y="456.7">サ</text><text class="k" x="782.7" y="467.3">シ</text><text class="k" x="782.7" y="477.7">①負</text></g>
<g id="B4"><text class="rt" x="916.7" y="446.7">B4</text><text class="k" x="916.7" y="456.7">ス</text><text class="k" x="916.7" y="467.3">セ</text><text class="k" x="916.7" y="477.7">②負</text></g>
</g>

<g id="dates">
<text class="vd" x="983" y="135">令和5年11月3日</text>
<text class="vd" x="983" y="221" style="letter-spacing:3.1px">令和5年11月12日</text>
<text class="vs" x="986" y="281">令和5年11</text><text class="vs" x="981" y="281">月19日</text>
<text class="vs" x="986" y="373.5">令和5年11</text><text class="vs" x="981" y="373.5">月19日</text>
<text class="vd" x="983" y="435" style="letter-spacing:3.3px">令和5年11月12日</text>
<text class="vd" x="983" y="518.5" style="letter-spacing:1.9px">令和5年11月3日</text>
</g>
</svg>
